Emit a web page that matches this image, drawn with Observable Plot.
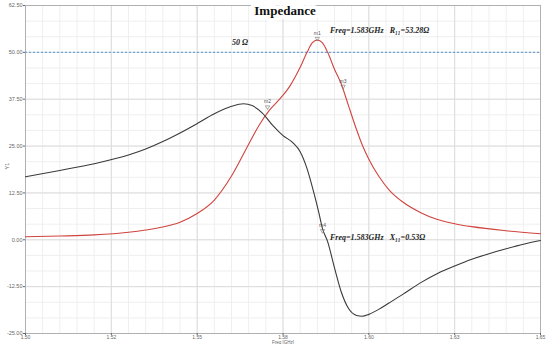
<!DOCTYPE html>
<html>
<head>
<meta charset="utf-8">
<script src="https://cdn.jsdelivr.net/npm/d3@7"></script>
<script src="https://cdn.jsdelivr.net/npm/@observablehq/plot@0.6"></script>
<style>
  html, body { margin: 0; padding: 0; background: #fff; }
  #chart svg { display: block; }
</style>
</head>
<body>
<div id="chart"></div>
<script>
// Resistance R11 (red)
const freqR = [1.500,1.510,1.520,1.530,1.535,1.540,1.545,1.550,1.555,1.560,1.565,1.568,1.571,1.574,1.577,1.580,1.582,1.5835,1.585,1.5865,1.588,1.590,1.592,1.594,1.596,1.598,1.600,1.603,1.606,1.610,1.615,1.620,1.625,1.630,1.640,1.650];
const valR  = [0.8,1.0,1.3,2.0,2.6,3.4,4.7,7.0,10.6,17.0,25.5,30.5,34.5,37.5,41.0,46.0,50.0,52.5,53.28,52.5,50.0,45.5,41.5,36.0,30.5,25.5,21.5,16.8,13.2,10.0,7.3,5.4,4.3,3.5,2.4,1.6];
// Reactance X11 (black)
const freqX = [1.500,1.510,1.520,1.530,1.535,1.540,1.545,1.550,1.555,1.560,1.5635,1.566,1.569,1.572,1.575,1.578,1.580,1.582,1.584,1.5855,1.5865,1.588,1.590,1.592,1.594,1.5965,1.598,1.600,1.603,1.606,1.610,1.615,1.620,1.625,1.630,1.635,1.640,1.645,1.650];
const valX  = [16.8,18.5,20.3,22.6,24.2,26.2,28.5,31.0,33.6,35.6,36.3,35.8,33.8,30.5,27.8,25.8,23.5,19.0,12.5,7.0,3.0,-0.5,-7.5,-14.0,-18.2,-20.2,-20.4,-19.9,-18.5,-16.8,-14.5,-11.5,-9.0,-7.0,-5.2,-3.7,-2.4,-1.2,-0.2];

const xTicks = [1.500,1.525,1.550,1.575,1.600,1.625,1.650];
const xTickLabels = ["1.50","1.52","1.55","1.58","1.60","1.63","1.65"];
const yTicks = [-25,-12.5,0,12.5,25,37.5,50,62.5];
const refLevel = [50];

// markers: name, freq, value
const markerNames = ["m1","m2","m3","m4"];
const markerFreq  = [1.585,1.5705,1.5925,1.5865];
const markerVal   = [53.28,35.0,40.5,2.0];

// annotations: text, freq, value
const noteText = ["Freq=1.583GHz   R\u2081\u2081=53.28\u03A9","Freq=1.583GHz   X\u2081\u2081=0.53\u03A9"];
const noteFreq = [1.5887,1.5887];
const noteVal  = [55.8,0.6];
const refLabel = ["50 \u03A9"];
const refLabelFreq = [1.5625];
const refLabelVal = [52.6];

const rData = freqR.map((f,i)=>({f, v: valR[i]}));
const xData = freqX.map((f,i)=>({f, v: valX[i]}));
const markers = markerNames.map((n,i)=>({n, f: markerFreq[i], v: markerVal[i]}));
const notes = noteText.map((t,i)=>({t, f: noteFreq[i], v: noteVal[i]}));
const refNotes = refLabel.map((t,i)=>({t, f: refLabelFreq[i], v: refLabelVal[i]}));

const minorX = d3.range(0, 31).map(i => 1.5 + i*0.005);
const minorY = d3.range(0, 22).map(i => -25 + i*12.5/3);

const serif = "'Liberation Serif', 'DejaVu Serif', serif";

const chart = Plot.plot({
  width: 550,
  height: 344,
  marginLeft: 25,
  marginRight: 10,
  marginTop: 5,
  marginBottom: 11,
  style: {fontFamily: "'Liberation Sans', Arial, sans-serif", background: "#fff"},
  x: {domain: [1.5, 1.65]},
  y: {domain: [-25, 62.5]},
  marks: [
    Plot.gridX(minorX, {stroke: "#efefef", strokeOpacity: 1}),
    Plot.gridY(minorY, {stroke: "#efefef", strokeOpacity: 1}),
    Plot.gridX(xTicks, {stroke: "#dcdcdc", strokeOpacity: 1}),
    Plot.gridY(yTicks, {stroke: "#dcdcdc", strokeOpacity: 1}),
    Plot.frame({stroke: "#b0b0b0"}),
    Plot.axisX(xTicks, {tickFormat: (d, i) => xTickLabels[i], tickSize: 2, fontSize: 5, color: "#666", label: null, tickPadding: 0}),
    Plot.axisY(yTicks, {tickFormat: d => d.toFixed(2), tickSize: 2, fontSize: 5.5, color: "#666", label: null, tickPadding: 1}),
    Plot.text(["Freq [GHz]"], {frameAnchor: "bottom", dy: 9, fontSize: 4.5, fill: "#666", lineAnchor: "middle"}),
    Plot.text(["Y1"], {frameAnchor: "left", dx: -18, rotate: -90, fontSize: 5.5, fill: "#666"}),
    Plot.ruleY(refLevel, {stroke: "#6fa3d6", strokeDasharray: "2,2", strokeWidth: 1.2}),
    Plot.line(rData, {x: "f", y: "v", stroke: "#d0443e", strokeWidth: 1.1, curve: "monotone-x"}),
    Plot.line(xData, {x: "f", y: "v", stroke: "#3a3a3a", strokeWidth: 1.1, curve: "monotone-x"}),
    Plot.dot(markers, {x: "f", y: "v", symbol: "triangle", rotate: 180, r: 1.6, stroke: "#777", strokeWidth: 0.6, fill: "none", dy: -1.5}),
    Plot.text(markers, {x: "f", y: "v", text: "n", fontSize: 5, fill: "#555", dy: -7}),
    Plot.text(notes, {x: "f", y: "v", text: "t", textAnchor: "start", fontSize: 8, fontWeight: "bold", fontStyle: "italic", fontFamily: serif, fill: "#222"}),
    Plot.text(refNotes, {x: "f", y: "v", text: "t", fontSize: 8, fontWeight: "bold", fontStyle: "italic", fontFamily: serif, fill: "#222"}),
    Plot.text(["Impedance"], {frameAnchor: "top", dx: 2, dy: 0, fontSize: 13, fontWeight: "bold", fontFamily: serif, fill: "#111", stroke: "white", strokeWidth: 8})
  ]
});
document.getElementById("chart").appendChild(chart);
</script>
</body>
</html>
